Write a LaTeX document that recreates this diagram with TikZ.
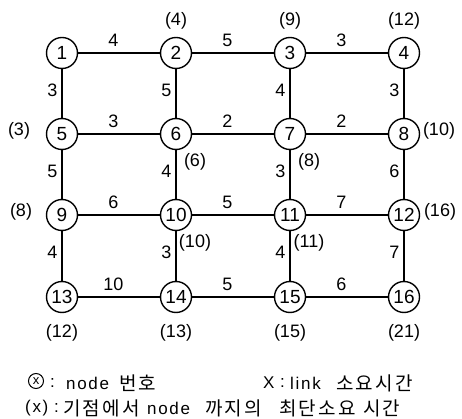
\documentclass[tikz,border=0pt]{standalone}
\usepackage{fontspec}
\setmainfont{Liberation Sans}
\newfontfamily\kr[LetterSpace=12]{Noto Sans CJK KR}
\newfontfamily\legfont[LetterSpace=10]{Liberation Sans}
\begin{document}
\begin{tikzpicture}[x=1pt,y=-1pt,
  nd/.style={circle,draw,line width=1.4pt,minimum size=31pt,inner sep=0pt,font=\fontsize{19}{19}\selectfont},
  lab/.style={font=\fontsize{18}{18}\selectfont,inner sep=0pt},
  leg/.style={font=\legfont\fontsize{17}{17}\selectfont,inner sep=0pt,anchor=west},
  legk/.style={font=\kr\fontsize{19}{19}\selectfont,inner sep=0pt,anchor=west},
  edge/.style={line width=1.3pt}]
\useasboundingbox (0,0) rectangle (462,419);
\foreach \n/\x/\y in {1/62/53,2/176/53,3/290/53,4/404/53,
  5/62/134,6/176/134,7/290/134,8/404/134,
  9/62/215,10/176/215,11/290/215,12/404/215,
  13/62/297,14/176/297,15/290/297,16/404/297}
  \node[nd] (n\n) at (\x,\y) {\n};
% horizontal edges with labels
\foreach \a/\b/\w in {1/2/4,2/3/5,3/4/3,5/6/3,6/7/2,7/8/2,9/10/6,10/11/5,11/12/7,13/14/10,14/15/5,15/16/6}
  \draw[edge] (n\a) -- node[lab,above=6pt,pos=0.43]{\w} (n\b);
% vertical edges with labels
\foreach \a/\b/\w in {1/5/3,5/9/5,9/13/4,2/6/5,6/10/4,10/14/3,3/7/4,7/11/3,11/15/4,4/8/3,8/12/6,12/16/7}
  \draw[edge] (n\a) -- node[lab,left=4pt,pos=0.43]{\w} (n\b);
% shortest times
\node[lab] (t2) at (176,21) {(4)};
\node[lab] (t3) at (290,21) {(9)};
\node[lab] (t4) at (404,21) {(12)};
\node[lab] (t5) at (19,131) {(3)};
\node[lab] (t8) at (439,131) {(10)};
\node[lab] (t9) at (21,212) {(8)};
\node[lab] (t12) at (440,212) {(16)};
\node[lab] (t6) at (195,162) {(6)};
\node[lab] (t7) at (309,162) {(8)};
\node[lab] (t10) at (195,243) {(10)};
\node[lab] (t11) at (309,243) {(11)};
\node[lab] (t13) at (62,333) {(12)};
\node[lab] (t14) at (176,333) {(13)};
\node[lab] (t15) at (290,333) {(15)};
\node[lab] (t16) at (404,333) {(21)};
% legend
\node[circle,draw,line width=1pt,inner sep=0pt,minimum size=15pt,font=\fontsize{13}{13}\selectfont] (lx) at (36,381) {x};
\node[leg] (l1a) at (50,383) {:};
\node[leg] (l1b) at (66,383) {node};
\node[legk] (l1c) at (119,383) {번호};
\node[leg] (l2a) at (263,383) {X};
\node[leg] (l2b) at (280,383) {:};
\node[leg] (l2c) at (290,383) {link};
\node[legk] (l2d) at (336,383) {소요시간};
\node[leg] (l3a) at (25,408) {(x)};
\node[leg] (l3b) at (54,408) {:};
\node[legk] (l3c) at (63,408) {기점에서};
\node[leg] (l3d) at (147,408) {node};
\node[legk] (l3e) at (205,408) {까지의};
\node[legk] (l3f) at (279,408) {최단소요};
\node[legk] (l3g) at (363,408) {시간};
\end{tikzpicture}
\end{document}
